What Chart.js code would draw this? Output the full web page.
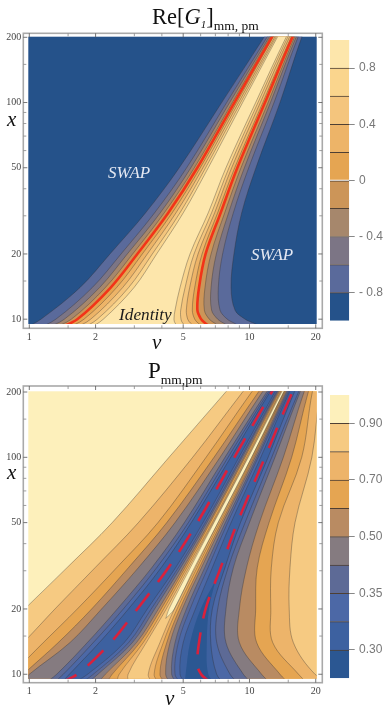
<!DOCTYPE html>
<html>
<head>
<meta charset="utf-8">
<title>Re[G1] and P contours</title>
<script src="https://cdn.jsdelivr.net/npm/chart.js@4/dist/chart.umd.min.js"></script>
<style>
html,body{margin:0;padding:0;background:#fff;width:384px;height:712px;overflow:hidden;}
canvas{position:absolute;}
.t{position:absolute;white-space:nowrap;line-height:1;font-family:"Liberation Serif",serif;color:#111;}
.t i{font-style:italic;}
.sub{font-size:13.5px;position:relative;top:6px;}
.ann{font-style:italic;}
</style>
</head>
<body>
<canvas id="c1" width="330" height="350" style="left:0;top:0;width:330px;height:350px"></canvas>
<canvas id="b1" width="64" height="350" style="left:320px;top:0;width:64px;height:350px"></canvas>
<canvas id="c2" width="330" height="362" style="left:0;top:350px;width:330px;height:362px"></canvas>
<canvas id="b2" width="64" height="362" style="left:320px;top:350px;width:64px;height:362px"></canvas>

<div class="t" style="left:152px;top:6px;font-size:22.5px">Re[<i>G</i><i style="font-size:11px;position:relative;top:4px">1</i>]<span class="sub">mm, pm</span></div>
<div class="t" style="left:148px;top:359px;font-size:23px">P<span class="sub">mm,pm</span></div>
<div class="t ann" style="left:7px;top:109px;font-size:21px">x</div>
<div class="t ann" style="left:152px;top:332px;font-size:21px">v</div>
<div class="t ann" style="left:7px;top:462px;font-size:21px">x</div>
<div class="t ann" style="left:165px;top:688px;font-size:21px">v</div>
<div class="t ann" style="left:108px;top:164px;font-size:17px;color:#e4e8f2">SWAP</div>
<div class="t ann" style="left:251px;top:246px;font-size:17px;color:#e4e8f2">SWAP</div>
<div class="t ann" style="left:119px;top:306px;font-size:17.3px;color:#1a1a1a">Identity</div>

<script>
'use strict';
// axis ticks
var vTicks = [1, 2, 5, 10, 20];
var vMinor = [1.5, 3, 4, 6, 7, 8, 9, 15];
var xTicks = [10, 20, 50, 100, 200];
var xMinor = [15, 30, 40, 60, 70, 80, 90, 150];

// Re[G1] contours, v read at each x row. Levels -0.8 .. 0.8 in steps of 0.2
var gRowsL = [9, 10, 14, 20, 31, 50, 100, 200, 240];
var gRowsR = [9, 9.6, 10, 11, 14, 20, 31, 50, 100, 200, 240];
var gLeft = [
    [0.939, 1.13, 1.70, 2.325, 3.376, 4.80, 7.48, 11.64, 13.06],
    [1.08, 1.32, 1.933, 2.61, 3.71, 5.185, 7.88, 12.01, 13.43],
    [1.174, 1.443, 2.086, 2.787, 3.937, 5.42, 8.13, 12.27, 13.66],
    [1.254, 1.552, 2.215, 2.947, 4.105, 5.62, 8.36, 12.44, 13.86],
    [1.331, 1.652, 2.342, 3.095, 4.28, 5.797, 8.54, 12.62, 14.05],
    [1.452, 1.772, 2.493, 3.26, 4.46, 5.98, 8.748, 12.79, 14.25],
    [1.574, 1.9, 2.655, 3.436, 4.64, 6.15, 8.93, 13.02, 14.45],
    [1.716, 2.037, 2.826, 3.62, 4.836, 6.32, 9.12, 13.2, 14.66],
    [1.853, 2.169, 2.99, 3.788, 5.007, 6.5, 9.31, 13.38, 14.86]
];
var gRight = [
    [11.97, 10.41, 9.55, 8.6, 8.25, 8.5, 9.22, 10.7, 13.76, 17.27, 18.84],
    [9.55, 8.5, 7.93, 7.35, 7.22, 7.55, 8.45, 9.92, 12.93, 16.6, 18.19],
    [8.48, 7.61, 7.17, 6.73, 6.69, 7.07, 8.04, 9.48, 12.45, 16.27, 17.9],
    [7.61, 6.93, 6.57, 6.24, 6.28, 6.69, 7.72, 9.15, 12.15, 16.0, 17.57],
    [6.85, 6.28, 6.03, 5.8, 5.9, 6.32, 7.4, 8.81, 11.76, 15.67, 17.27],
    [6.32, 5.84, 5.64, 5.5, 5.64, 6.09, 7.17, 8.57, 11.5, 15.45, 17.0],
    [5.78, 5.39, 5.24, 5.167, 5.35, 5.84, 6.95, 8.3, 11.2, 15.17, 16.8],
    [5.295, 4.97, 4.886, 4.87, 5.1, 5.6, 6.73, 8.07, 10.93, 14.9, 16.5],
    [4.836, 4.59, 4.54, 4.59, 4.836, 5.369, 6.5, 7.82, 10.67, 14.66, 16.27]
];
var gColors = ['#25528a', '#5a6a9b', '#7c7585', '#a6876c', '#cc9558', '#e5a552', '#edb468', '#f4c57d', '#fad58d', '#fde6ab'];
var gLevels = [-1, -0.8, -0.6, -0.4, -0.2, 0, 0.2, 0.4, 0.6, 0.8, 1];
var gBarTicks = [-0.8, -0.4, 0, 0.4, 0.8];
var gBarLabels = ['- 0.8', '- 0.4', '0', '0.4', '0.8'];

// P contours, outer nest: index 0 is the 0.90 line, last is the lowest line
var pRows = [9, 10, 14, 20, 31, 50, 100, 200, 240];
var pOuterL = [
    [0.421, 0.467, 0.663, 0.952, 1.483, 2.38, 4.31, 7.8, 9.12],
    [0.597, 0.663, 0.939, 1.308, 1.99, 3.13, 5.52, 9.31, 10.78],
    [0.736, 0.831, 1.158, 1.652, 2.493, 3.84, 6.35, 10.23, 11.76],
    [0.846, 0.939, 1.354, 1.92, 2.82, 4.21, 6.9, 10.98, 12.62],
    [0.907, 1.0, 1.53, 2.13, 3.13, 4.59, 7.35, 11.44, 13.2],
    [1.158, 1.331, 1.835, 2.51, 3.6, 5.06, 7.74, 11.97, 13.66],
    [1.27, 1.427, 1.953, 2.673, 3.79, 5.28, 7.99, 12.2, 13.9],
    [1.378, 1.52, 2.08, 2.82, 3.97, 5.44, 8.22, 12.4, 14.1]
];
var pEdgeR = [30, 30, 30, 30, 30, 30, 30, 30, 30];
var pOuterR = [
    [24.1, 19.85, 15.82, 15.15, 15.28, 16.1, 19.2, 20.9, 22.05],
    [18.5, 16.7, 12.75, 12.5, 12.57, 13.52, 17.27, 19.3, 20.6],
    [15.28, 13.76, 10.78, 10.67, 10.85, 12.27, 15.55, 18.5, 19.9],
    [12.62, 11.35, 9.0, 9.0, 9.7, 11.1, 14.25, 17.7, 19.2],
    [10.41, 9.38, 7.82, 7.82, 8.45, 10.0, 13.06, 16.97, 18.5],
    [9.06, 8.16, 7.1, 7.17, 8.0, 9.55, 12.62, 16.7, 18.19],
    [7.74, 7.096, 6.67, 6.78, 7.74, 9.1, 12.15, 16.0, 17.57]
];
// central ridge between the two valleys, lowest line first
var pRidgeL = [
    [1.55, 1.84, 2.7, 3.436, 4.62, 6.15, 8.96, 13.06, 14.5],
    [1.685, 1.953, 2.826, 3.58, 4.75, 6.3, 9.15, 13.25, 14.66],
    [1.81, 2.05, 2.94, 3.71, 4.87, 6.41, 9.28, 13.38, 14.8],
    [2.023, 2.215, 3.07, 3.86, 5.0, 6.55, 9.44, 13.52, 15.0],
    [2.23, 2.38, 3.18, 3.97, 5.1, 6.64, 9.55, 13.66, 15.1],
    [2.49, 2.56, 3.295, 4.08, 5.2, 6.78, 9.71, 13.81, 15.23],
    [2.83, 2.81, 3.4, 4.19, 5.3, 6.85, 9.82, 13.9, 15.34]
];
var pRidgeR = [
    [5.185, 4.836, 5.0, 5.68, 6.78, 8.25, 11.25, 15.17, 16.75],
    [4.96, 4.59, 4.75, 5.37, 6.48, 7.96, 10.95, 15.0, 16.45],
    [4.75, 4.43, 4.59, 5.17, 6.26, 7.77, 10.78, 14.8, 16.27],
    [4.43, 4.16, 4.355, 4.95, 6.05, 7.58, 10.6, 14.66, 16.1],
    [4.21, 3.92, 4.21, 4.82, 5.92, 7.45, 10.45, 14.5, 16.0],
    [3.92, 3.69, 4.06, 4.69, 5.78, 7.32, 10.33, 14.4, 15.82],
    [3.66, 3.47, 3.92, 4.56, 5.68, 7.2, 10.23, 14.3, 15.7]
];
// narrow cream spike on the ridge
var pSpikeRows = [18.1, 20, 31, 50, 100, 200, 240];
var pSpikeL = [4.17, 4.31, 5.39, 6.9, 9.88, 14.0, 15.34];
var pSpikeR = [4.17, 4.56, 5.62, 7.2, 10.23, 14.3, 15.75];
// darkest pocket round the right valley
var pDeepRows = [9, 10, 14, 20, 27];
var pDeepL = [5.07, 5.13, 5.37, 6.0, 7.0];
var pDeepR = [7.1, 6.5, 6.4, 6.55, 7.0];
var pColors = ['#2b5792', '#3d61a0', '#4c68a6', '#5d6a96', '#857b80', '#b98b62', '#e5a552', '#edb46a', '#f6ca82', '#fdf0bb'];
var pLevels = [0, 1, 2, 3, 4, 5, 6, 7, 8, 9, 10];
var pBarTicks = [1, 3, 5, 7, 9];
var pBarLabels = ['0.30', '0.35', '0.50', '0.70', '0.90'];

var LINE = 'rgba(50,45,45,.5)';
var RED_G = '#f23418';
var RED_P = '#d9213c';

function pts(vs, rows) {
    return vs.map(function(v, i) { return { x: v, y: rows[i] }; });
}

// closed outline: left curve up, right curve down. Corner points are doubled
// so the splines keep the same shape as the contour lines drawn on top
function band(l, rowsL, r, rowsR, color) {
    var a = pts(l, rowsL), b = pts(r, rowsR).reverse();
    var poly = [a[0]].concat(a, [a[a.length - 1]], [b[0]], b, [b[b.length - 1]]);
    return { data: poly, bandColor: color, showLine: true, borderWidth: 0, pointRadius: 0, tension: 0.35, clip: 0 };
}

function line(vs, rows, color, width, dash) {
    return { data: pts(vs, rows), showLine: true, borderColor: color, borderWidth: width, borderDash: dash || [],
             pointRadius: 0, tension: 0.35, clip: 0, backgroundColor: 'transparent', fill: false };
}

function stack(list) {
    // first in the list is painted first
    list.forEach(function(d, i) { d.order = -i; });
    return list;
}

var bandFill = {
    id: 'bandFill',
    beforeDatasetsDraw: function(chart, args, opts) {
        var a = chart.chartArea, c = chart.ctx;
        c.fillStyle = opts.base;
        c.fillRect(a.left, a.top, a.right - a.left, a.bottom - a.top);
    },
    beforeDatasetDraw: function(chart, args) {
        var ds = chart.data.datasets[args.index];
        if (!ds.bandColor) return;
        var a = chart.chartArea, c = chart.ctx, el = args.meta.dataset;
        el.updateControlPoints(a, 'x');
        c.save();
        c.beginPath();
        c.rect(a.left, a.top, a.right - a.left, a.bottom - a.top);
        c.clip();
        c.beginPath();
        el.path(c);
        c.closePath();
        c.fillStyle = ds.bandColor;
        c.fill();
        c.restore();
    }
};

var frame = {
    id: 'frame',
    afterDraw: function(chart, args, o) {
        var a = chart.chartArea, c = chart.ctx, sx = chart.scales.x, sy = chart.scales.y;
        var l = a.left - o.gapL, r = a.right + o.gapR, t = a.top - o.gapT, b = a.bottom + o.gapB;
        c.save();
        c.strokeStyle = '#a9a9a9';
        c.lineWidth = 1.6;
        c.strokeRect(l, t, r - l, b - t);
        function tick(x0, y0, x1, y1, col) {
            c.strokeStyle = col;
            c.lineWidth = 0.8;
            c.beginPath();
            c.moveTo(x0, y0);
            c.lineTo(x1, y1);
            c.stroke();
        }
        function marks(vals, xVals, len, col) {
            vals.forEach(function(v) {
                var p = sx.getPixelForValue(v);
                tick(p, b, p, b - len, col);
                tick(p, t, p, t + len, col);
            });
            xVals.forEach(function(v) {
                var p = sy.getPixelForValue(v);
                tick(l, p, l + len, p, col);
                tick(r, p, r - len, p, col);
            });
        }
        marks(vTicks, xTicks, 4, '#555');
        marks(vMinor, xMinor, 3, '#888');
        c.restore();
    }
};

function panel(id, datasets, base, pad, xH, yMin, yMax, gaps) {
    return new Chart(document.getElementById(id), {
        type: 'scatter',
        data: { datasets: datasets },
        plugins: [bandFill, frame],
        options: {
            responsive: false,
            animation: false,
            events: [],
            layout: { padding: { left: 0, right: 13.3, top: pad, bottom: 0 } },
            elements: { line: { capBezierPoints: false } },
            plugins: {
                legend: { display: false },
                tooltip: { enabled: false },
                title: { display: false },
                bandFill: { base: base },
                frame: gaps
            },
            scales: {
                x: {
                    type: 'logarithmic', min: 0.9895, max: 20.2,
                    grid: { drawOnChartArea: false, drawTicks: false }, border: { display: false },
                    ticks: { autoSkip: false, maxRotation: 0, padding: 7, color: '#444',
                             font: { family: 'Liberation Serif', size: 10 },
                             callback: function(v) { return String(v); } },
                    afterBuildTicks: function(s) { s.ticks = vTicks.map(function(v) { return { value: v }; }); },
                    afterFit: function(s) { s.height = xH; }
                },
                y: {
                    type: 'logarithmic', min: yMin, max: yMax,
                    grid: { drawOnChartArea: false, drawTicks: false }, border: { display: false },
                    ticks: { autoSkip: false, padding: 7, color: '#444',
                             font: { family: 'Liberation Serif', size: 10 },
                             callback: function(v) { return String(v); } },
                    afterBuildTicks: function(s) { s.ticks = xTicks.map(function(v) { return { value: v }; }); },
                    afterFit: function(s) { s.width = 28.3; }
                }
            }
        }
    });
}

function colorbar(id, levels, colors, tickVals, tickText, padTop, padBottom) {
    var sets = colors.map(function(col, i) {
        return { data: [[levels[i], levels[i + 1]]], backgroundColor: col, barPercentage: 1, categoryPercentage: 1,
                 grouped: false, borderColor: '#4e3f33', borderSkipped: false,
                 borderWidth: { top: i === colors.length - 1 ? 0 : 1, bottom: 0, left: 0, right: 0 } };
    });
    return new Chart(document.getElementById(id), {
        type: 'bar',
        data: { labels: [''], datasets: sets },
        options: {
            responsive: false,
            animation: false,
            events: [],
            layout: { padding: { left: 10, right: 0, top: padTop, bottom: padBottom } },
            plugins: { legend: { display: false }, tooltip: { enabled: false } },
            scales: {
                x: { display: false },
                y: {
                    position: 'right', min: levels[0], max: levels[levels.length - 1],
                    grid: { drawOnChartArea: false, tickLength: 5.4, tickColor: '#888', tickWidth: 1 },
                    border: { display: false },
                    ticks: { autoSkip: false, padding: 4.3, color: '#777',
                             font: { family: 'Liberation Sans', size: 12 },
                             callback: function(v) { return tickText[tickVals.indexOf(v)]; } },
                    afterBuildTicks: function(s) { s.ticks = tickVals.map(function(v) { return { value: v }; }); },
                    afterFit: function(s) { s.width = 34.7; }
                }
            }
        }
    });
}

// top panel
var gSets = [];
gLeft.forEach(function(l, i) { gSets.push(band(l, gRowsL, gRight[i], gRowsR, gColors[i + 1])); });
gLeft.forEach(function(l, i) {
    if (i === 4) return;
    gSets.push(line(l, gRowsL, LINE, 0.7));
    gSets.push(line(gRight[i], gRowsR, LINE, 0.7));
});
gSets.push(line(gLeft[4], gRowsL, RED_G, 2.6));
gSets.push(line(gRight[4], gRowsR, RED_G, 2.6));
panel('c1', stack(gSets), gColors[0], 36.7, 26, 9.5, 201.3, { gapL: 5, gapR: 5.6, gapT: 3.4, gapB: 4.3 });
colorbar('b1', gLevels, gColors, gBarTicks, gBarLabels, 40, 29.3);

// bottom panel
var pSets = [];
pOuterL.forEach(function(l, i) {
    var r = i === 0 ? pEdgeR : pOuterR[i - 1];
    pSets.push(band(l, pRows, r, pRows, pColors[8 - i]));
});
pSets.push(band(pDeepL, pDeepRows, pDeepR, pDeepRows, pColors[0]));
pRidgeL.forEach(function(l, i) { pSets.push(band(l, pRows, pRidgeR[i], pRows, pColors[i + 2])); });
pSets.push(band(pSpikeL, pSpikeRows, pSpikeR, pSpikeRows, pColors[9]));
pOuterL.forEach(function(l, i) {
    pSets.push(line(l, pRows, LINE, 0.7));
    if (i > 0) pSets.push(line(pOuterR[i - 1], pRows, LINE, 0.7));
});
pRidgeL.forEach(function(l, i) {
    pSets.push(line(l, pRows, LINE, 0.6));
    pSets.push(line(pRidgeR[i], pRows, LINE, 0.6));
});
pSets.push(line(pSpikeL, pSpikeRows, LINE, 0.6));
pSets.push(line(pSpikeR, pSpikeRows, LINE, 0.6));
pSets.push(line(gLeft[4], gRowsL, RED_P, 2.6, [22, 14.5]));
pSets.push(line(gRight[4], gRowsR, RED_P, 2.6, [22, 14.5]));
panel('c2', stack(pSets), pColors[9], 41.3, 33.3, 9.54, 201.5, { gapL: 5, gapR: 5.6, gapT: 5.3, gapB: 4 });
colorbar('b2', pLevels, pColors, pBarTicks, pBarLabels, 45, 33.7);
</script>
</body>
</html>
